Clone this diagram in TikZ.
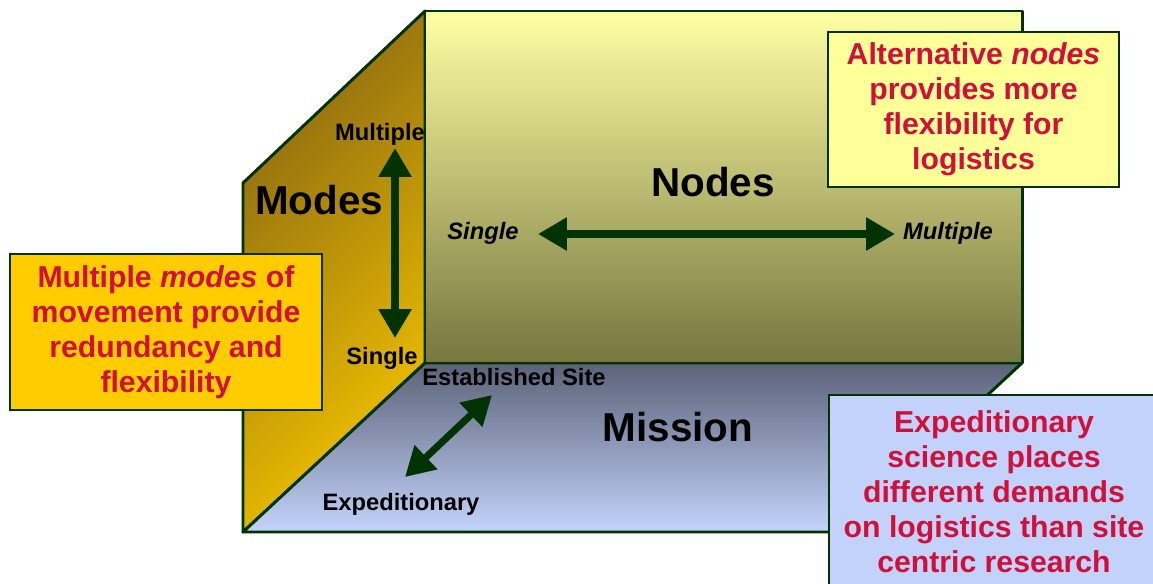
\documentclass[tikz,border=0pt]{standalone}
\usepackage{fontspec}
\setmainfont{Liberation Sans}
\usetikzlibrary{arrows.meta}
\definecolor{wallgreen}{HTML}{003300}
\definecolor{notered}{RGB}{208,16,58}
\definecolor{modesdark}{HTML}{8C6A12}
\definecolor{modesgold}{HTML}{F2C200}
\definecolor{nodestop}{HTML}{FFFFA4}
\definecolor{nodesmid}{HTML}{C8C87E}
\definecolor{nodesbot}{HTML}{76763F}
\definecolor{missiontop}{HTML}{5C6279}
\definecolor{missionbot}{HTML}{C3D3FB}
\definecolor{modesbox}{HTML}{FFCC00}
\definecolor{nodesbox}{HTML}{FFFF99}
\definecolor{missionbox}{HTML}{C2D2FA}

\begin{document}
\begin{tikzpicture}[x=0.02cm,y=-0.02cm,
  edgestyle/.style={draw=wallgreen,line width=1.7pt,line join=round},
  bigarrow/.style={wallgreen,line width=4pt,{Triangle[length=16.5pt,width=18pt]}-{Triangle[length=16.5pt,width=18pt]}},
  notebox/.style={draw=wallgreen,line width=1.1pt,text=notered,align=center,font=\fontsize{17.2}{19.9}\selectfont\bfseries},
  axislabel/.style={anchor=base,inner sep=0pt,font=\fontsize{13.5}{16}\selectfont\bfseries},
  planelabel/.style={anchor=base,inner sep=0pt,font=\fontsize{23}{27}\selectfont\bfseries}]
\clip (0,0) rectangle (1153,584);

\shadedraw[edgestyle,top color=modesdark,bottom color=modesgold,shading angle=45] (243,183) -- (425,11) -- (425,363) -- (243,532) -- cycle;
\shadedraw[edgestyle,top color=missiontop,bottom color=missionbot] (425,363) -- (1022,363) -- (840,532) -- (243,532) -- cycle;
\shadedraw[edgestyle,top color=nodestop,middle color=nodesmid,bottom color=nodesbot] (425,11) rectangle (1022,363);

\node[axislabel] (modesmulti) at (380,141) {Multiple};
\node[planelabel] (modestitle) at (319,215) {Modes};
\node[axislabel] (modessingle) at (382,364) {Single};
\coordinate (modestop) at (395,148);
\coordinate (modesbot) at (395,338);
\draw[bigarrow] (modestop) -- (modesbot);

\node[planelabel] (nodestitle) at (713,197) {Nodes};
\node[axislabel] (nodessingle) at (483,240) {\itshape Single};
\node[axislabel] (nodesmulti) at (948,240) {\itshape Multiple};
\coordinate (nodesleft) at (538,234);
\coordinate (nodesright) at (895,234);
\draw[bigarrow] (nodesleft) -- (nodesright);

\node[axislabel] (missionsite) at (514,385) {Established Site};
\node[planelabel] (missiontitle) at (678,441) {Mission};
\node[axislabel] (missionexp) at (401,510) {Expeditionary};
\coordinate (missionnear) at (405,477);
\coordinate (missionfar) at (492,395);
\draw[bigarrow] (missionnear) -- (missionfar);

\node[notebox,fill=modesbox,minimum width=6.24cm,minimum height=3.12cm,text depth=0.35em] (modesnote) at (166,332) {Multiple \textit{modes} of\\movement provide\\redundancy and\\flexibility};
\node[notebox,fill=nodesbox,minimum width=5.82cm,minimum height=3.10cm,text depth=0.35em] (nodesnote) at (973.5,109.5) {Alternative \textit{nodes}\\provides more\\flexibility for\\logistics};
\node[notebox,fill=missionbox,minimum width=6.6cm,minimum height=3.88cm] (missionnote) at (994,492) {Expeditionary\\science places\\different demands\\on logistics than site\\centric research};
\end{tikzpicture}
\end{document}
